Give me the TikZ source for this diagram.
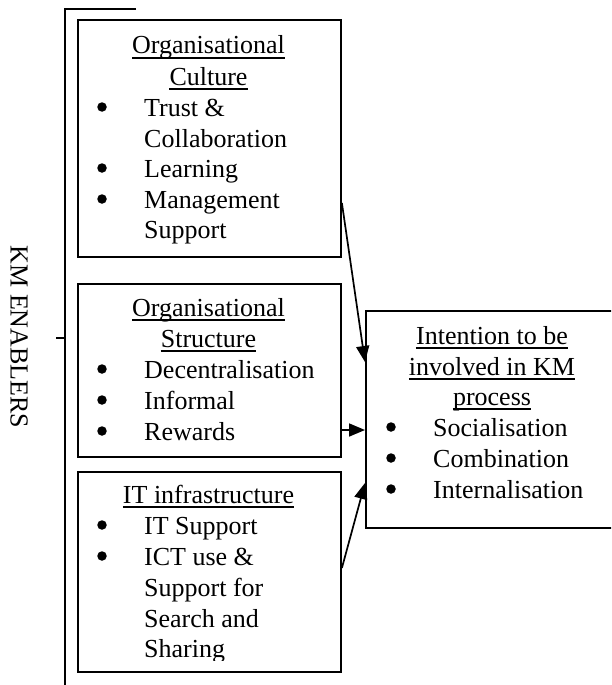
\documentclass[tikz,border=0pt]{standalone}
\usepackage{fontspec}
\setmainfont{Liberation Serif}
\usetikzlibrary{arrows.meta}
\begin{document}
\begin{tikzpicture}[x=1pt,y=-1pt,
  every node/.style={font=\fontsize{26pt}{30.7pt}\selectfont},
  boxshape/.style={draw, line width=1.9pt, rectangle, inner sep=0pt, anchor=north west},
  head/.style={inner sep=0pt, anchor=base},
  itemtext/.style={inner sep=0pt, anchor=base west},
  bul/.style={circle, fill, inner sep=0pt, minimum size=9.5pt},
  uline/.style={line width=1.3pt},
  conn/.style={line width=1.7pt, -{Triangle[length=16pt,width=13pt]}},
  bracket/.style={line width=1.7pt}]
\useasboundingbox (0,0) rectangle (611,685);
\clip (0,0) rectangle (611,685);

% bracket
\coordinate (bt) at (136,9);
\coordinate (bc) at (65,9);
\coordinate (bb) at (65,690);
\coordinate (tk1) at (56,338);
\coordinate (tk2) at (65,338);
\draw[bracket] (bt) -- (bc) -- (bb);
\draw[bracket] (tk1) -- (tk2);
\node[inner sep=0pt, rotate=-90] (lab) at (19,337) {KM ENABLERS};

% boxes
\node[boxshape, minimum width=263pt, minimum height=237pt] (b1) at (77,19) {};
\node[boxshape, minimum width=263pt, minimum height=173pt] (b2) at (77,283) {};
\node[boxshape, minimum width=263pt, minimum height=200pt] (b3) at (77,471) {};
\node[boxshape, minimum width=260pt, minimum height=217pt] (r) at (365,310) {};

% box 1 text
\node[head] (h11) at (208.5,54) {Organisational};
\node[head] (h12) at (208.5,85) {Culture};
\draw[uline] ([yshift=-4pt]h11.base west) -- ([yshift=-4pt]h11.base east);
\draw[uline] ([yshift=-4pt]h12.base west) -- ([yshift=-4pt]h12.base east);
\node[bul] (u11) at (102,107) {};
\node[itemtext] (t11) at (144,116) {Trust \&};
\node[itemtext] (t12) at (144,147) {Collaboration};
\node[bul] (u12) at (102,168) {};
\node[itemtext] (t13) at (144,177) {Learning};
\node[bul] (u13) at (102,199) {};
\node[itemtext] (t14) at (144,208) {Management};
\node[itemtext] (t15) at (144,238) {Support};

% box 2 text
\node[head] (h21) at (208.5,316) {Organisational};
\node[head] (h22) at (208.5,347) {Structure};
\draw[uline] ([yshift=-4pt]h21.base west) -- ([yshift=-4pt]h21.base east);
\draw[uline] ([yshift=-4pt]h22.base west) -- ([yshift=-4pt]h22.base east);
\node[bul] (u21) at (102,369) {};
\node[itemtext] (t21) at (144,378) {Decentralisation};
\node[bul] (u22) at (102,400) {};
\node[itemtext] (t22) at (144,409) {Informal};
\node[bul] (u23) at (102,431) {};
\node[itemtext] (t23) at (144,440) {Rewards};

% box 3 text (clipped at the text area)
\begin{scope}
\clip (77,471) rectangle (340,660);
\node[head] (h31) at (208.5,503) {IT infrastructure};
\draw[uline] ([yshift=-4pt]h31.base west) -- ([yshift=-4pt]h31.base east);
\node[bul] (u31) at (102,525) {};
\node[itemtext] (t31) at (144,534) {IT Support};
\node[bul] (u32) at (102,556) {};
\node[itemtext] (t32) at (144,565) {ICT use \&};
\node[itemtext] (t33) at (144,596) {Support for};
\node[itemtext] (t34) at (144,627) {Search and};
\node[itemtext] (t35) at (144,657) {Sharing};
\end{scope}

% right box text
\node[head] (h41) at (492,344) {Intention to be};
\node[head] (h42) at (492,375) {involved in KM};
\node[head] (h43) at (492,405) {process};
\draw[uline] ([yshift=-4pt]h41.base west) -- ([yshift=-4pt]h41.base east);
\draw[uline] ([yshift=-4pt]h42.base west) -- ([yshift=-4pt]h42.base east);
\draw[uline] ([yshift=-4pt]h43.base west) -- ([yshift=-4pt]h43.base east);
\node[bul] (u41) at (391,427) {};
\node[itemtext] (t41) at (433,436) {Socialisation};
\node[bul] (u42) at (391,458) {};
\node[itemtext] (t42) at (433,467) {Combination};
\node[bul] (u43) at (391,489) {};
\node[itemtext] (t43) at (433,498) {Internalisation};

% connectors
\draw[conn] ([yshift=-184pt]b1.north east) -- ([yshift=-52pt]r.north west);
\draw[conn] ([yshift=-147pt]b2.north east) -- ([yshift=-120pt]r.north west);
\draw[conn] ([yshift=-97pt]b3.north east) -- ([yshift=-173pt]r.north west);
\end{tikzpicture}
\end{document}
